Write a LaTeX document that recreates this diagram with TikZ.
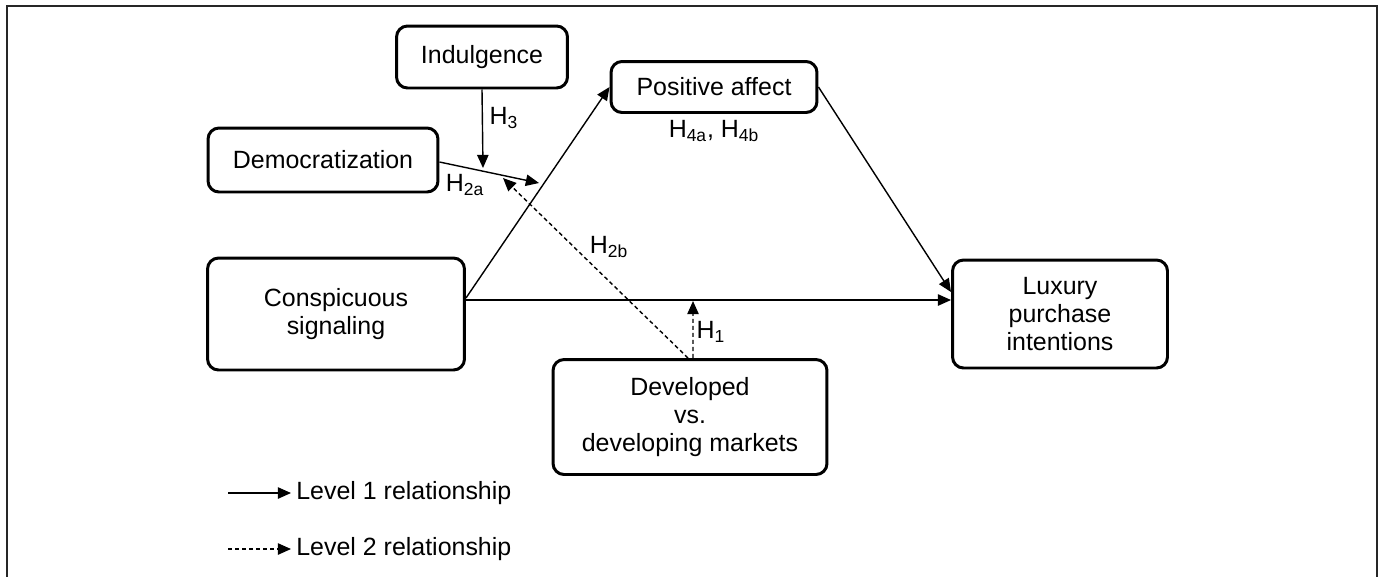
\documentclass[tikz,border=0pt]{standalone}
\usepackage{fontspec}
\setmainfont{Liberation Sans}
\usetikzlibrary{arrows.meta, positioning}

\begin{document}
\begin{tikzpicture}[x=0.02cm, y=-0.02cm, font=\fontsize{14.2}{16}\selectfont,
        box/.style={draw, line width=1.7pt, rounded corners=0.22cm, align=center, inner sep=2pt},
        lvl1/.style={draw, line width=0.8pt, -{Triangle[length=7.5pt, width=6.5pt]}},
        lvl2/.style={lvl1, dash pattern=on 2.3pt off 1.7pt},
        hyp/.style={inner sep=0pt}]

        \useasboundingbox (0,0) rectangle (1379,576);
        \draw[line width=1.1pt, black!85] (7,600) -- (7,6) -- (1377,6) -- (1377,600);

        %% NODES
        \node[box, minimum width=3.42cm, minimum height=1.24cm] (indul) at (482,57) {Indulgence};
        \node[box, minimum width=4.6cm, minimum height=1.28cm] (democ) at (323,160) {Democratization};
        \node[box, minimum width=4.12cm, minimum height=1.02cm] (posaff) at (714,87) {Positive affect};
        \node[box, minimum width=5.14cm, minimum height=2.24cm] (consp) at (336,314) {Conspicuous\\signaling};
        \node[box, minimum width=4.3cm, minimum height=2.16cm] (luxury) at (1060,314) {Luxury\\purchase\\intentions};
        \node[box, minimum width=5.48cm, minimum height=2.3cm] (devel) at (690,417) {Developed\\vs.\\developing markets};

        % end points on the paths that are moderated
        \coordinate (indtip) at (483,168);
        \coordinate (demtip) at (539,183);
        \coordinate (h2btip) at (503,178);
        \coordinate (h1tip) at (693,301);

        %% LEVEL 1 PATHS
        \draw[lvl1] ([yshift=0.32cm]consp.east) -- (posaff.west);
        \draw[lvl1] (posaff.east) -- ([yshift=0.44cm]luxury.west);
        \draw[lvl1] ([yshift=0.28cm]consp.east) -- ([yshift=0.28cm]luxury.west);
        \draw[lvl1] ([yshift=-0.04cm]democ.east) -- (demtip);
        \draw[lvl1] (indul.south) -- (indtip);

        %% LEVEL 2 PATHS
        \draw[lvl2] ([xshift=-0.04cm]devel.north) -- (h2btip);
        \draw[lvl2] ([xshift=0.06cm]devel.north) -- (h1tip);

        %% HYPOTHESES
        \node[hyp] (h3) at (504,118) {H\textsubscript{3}};
        \node[hyp] (h2a) at (465,185) {H\textsubscript{2a}};
        \node[hyp] (h2b) at (609,247) {H\textsubscript{2b}};
        \node[hyp] (h1) at (711,332) {H\textsubscript{1}};
        \node[hyp] (h4) at (714,131) {H\textsubscript{4a}, H\textsubscript{4b}};

        %% LEGEND
        \coordinate (leg1a) at (228,493);
        \coordinate (leg2a) at (228,549);
        \node[hyp, anchor=west] (leg1) at (296,493) {Level 1 relationship};
        \node[hyp, anchor=west] (leg2) at (296,549) {Level 2 relationship};
        \draw[lvl1] (leg1a) -- ([xshift=-0.1cm]leg1.west);
        \draw[lvl2] (leg2a) -- ([xshift=-0.1cm]leg2.west);

\end{tikzpicture}
\end{document}
